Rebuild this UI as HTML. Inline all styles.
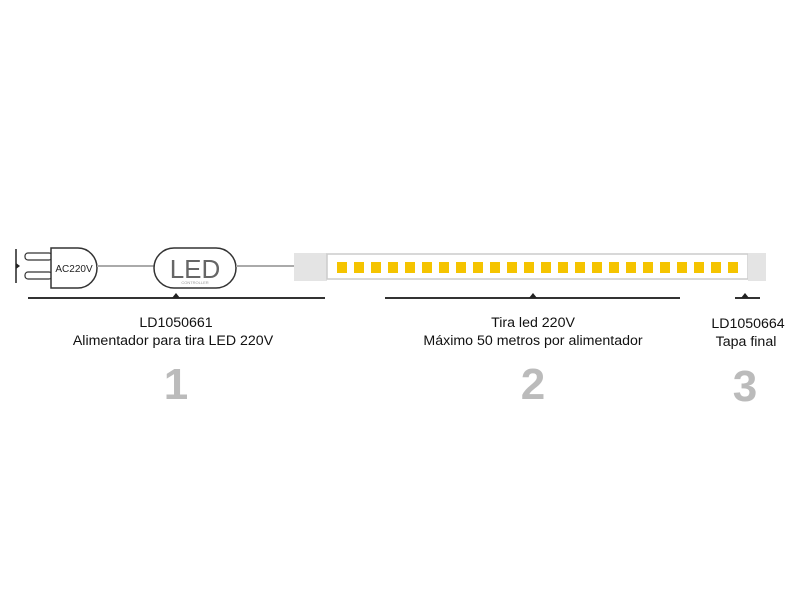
<!DOCTYPE html>
<html><head><style>
body{margin:0;width:800px;height:600px;background:#fff;overflow:hidden}
</style></head><body>
<svg width="800" height="600" xmlns="http://www.w3.org/2000/svg" font-family="Liberation Sans, sans-serif">
<line x1="16" y1="249" x2="16" y2="283" stroke="#222" stroke-width="1.5"/>
<polygon points="16,263 20,266 16,269" fill="#222"/>
<rect x="25" y="253" width="27" height="7" rx="3" fill="#fff" stroke="#333" stroke-width="1.2"/>
<rect x="25" y="272" width="27" height="7" rx="3" fill="#fff" stroke="#333" stroke-width="1.2"/>
<path d="M51,248 H78 A19,20 0 0 1 78,288 H51 Z" fill="#fff" stroke="#333" stroke-width="1.5"/>
<text x="74" y="272" font-size="10" text-anchor="middle" fill="#222">AC220V</text>
<line x1="97" y1="266" x2="155" y2="266" stroke="#aaa" stroke-width="2"/>
<rect x="154" y="248" width="82" height="40" rx="20" fill="#fff" stroke="#333" stroke-width="1.5"/>
<text x="195" y="278" font-size="26" text-anchor="middle" fill="#666">LED</text>
<text x="195" y="284" font-size="4" text-anchor="middle" fill="#999">CONTROLLER</text>
<line x1="236" y1="266" x2="294" y2="266" stroke="#aaa" stroke-width="2"/>
<rect x="294" y="253" width="33" height="28" fill="#e4e4e4"/>
<rect x="327" y="254" width="421" height="25" fill="#fff" stroke="#ccc" stroke-width="1.5"/>
<rect x="748" y="253" width="18" height="28" fill="#e4e4e4"/>
<g fill="#f5c400">
<rect x="337" y="262" width="10" height="11"/><rect x="354" y="262" width="10" height="11"/><rect x="371" y="262" width="10" height="11"/><rect x="388" y="262" width="10" height="11"/><rect x="405" y="262" width="10" height="11"/><rect x="422" y="262" width="10" height="11"/><rect x="439" y="262" width="10" height="11"/><rect x="456" y="262" width="10" height="11"/><rect x="473" y="262" width="10" height="11"/><rect x="490" y="262" width="10" height="11"/><rect x="507" y="262" width="10" height="11"/><rect x="524" y="262" width="10" height="11"/><rect x="541" y="262" width="10" height="11"/><rect x="558" y="262" width="10" height="11"/><rect x="575" y="262" width="10" height="11"/><rect x="592" y="262" width="10" height="11"/><rect x="609" y="262" width="10" height="11"/><rect x="626" y="262" width="10" height="11"/><rect x="643" y="262" width="10" height="11"/><rect x="660" y="262" width="10" height="11"/><rect x="677" y="262" width="10" height="11"/><rect x="694" y="262" width="10" height="11"/><rect x="711" y="262" width="10" height="11"/><rect x="728" y="262" width="10" height="11"/>
</g>
<g stroke="#333" stroke-width="2">
<line x1="28" y1="298" x2="325" y2="298"/>
<line x1="385" y1="298" x2="680" y2="298"/>
<line x1="735" y1="298" x2="760" y2="298"/>
</g>
<g fill="#222">
<polygon points="172,298 176,293 180,298"/>
<polygon points="529,298 533,293 537,298"/>
<polygon points="741,298 745,293 749,298"/>
</g>
<g font-size="14.2" fill="#111" text-anchor="middle">
<text x="176" y="327">LD1050661</text>
<text x="173" y="345">Alimentador para tira LED 220V</text>
<text x="533" y="327">Tira led 220V</text>
<text x="533" y="345">Máximo 50 metros por alimentador</text>
<text x="748" y="328">LD1050664</text>
<text x="746" y="346">Tapa final</text>
</g>
<g font-size="44" font-weight="bold" fill="#bbb" text-anchor="middle">
<text x="176" y="399">1</text>
<text x="533" y="399">2</text>
<text x="745" y="401">3</text>
</g>
</svg>
</body></html>
